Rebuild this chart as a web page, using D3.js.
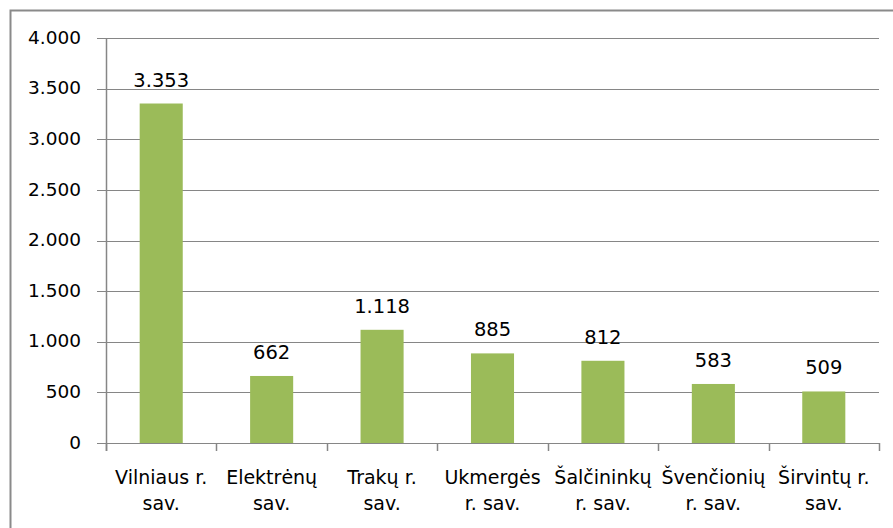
<!DOCTYPE html>
<html>
<head>
<meta charset="utf-8">
<script src="https://cdn.jsdelivr.net/npm/d3@7"></script>
<style>
  html, body { margin: 0; padding: 0; background: #fff; }
  svg { display: block; }
  text { font-family: "DejaVu Sans", sans-serif; fill: #000; }
</style>
</head>
<body>
<svg id="chart" width="893" height="528"></svg>
<script>
// Data
const categories = ["Vilniaus r. sav.", "Elektrėnų sav.", "Trakų r. sav.", "Ukmergės r. sav.", "Šalčininkų r. sav.", "Švenčionių r. sav.", "Širvintų r. sav."];
const categoryLines = [["Vilniaus r.", "sav."], ["Elektrėnų", "sav."], ["Trakų r.", "sav."], ["Ukmergės", "r. sav."], ["Šalčininkų", "r. sav."], ["Švenčionių", "r. sav."], ["Širvintų r.", "sav."]];
const values = [3353, 662, 1118, 885, 812, 583, 509];
const yTicks = [0, 500, 1000, 1500, 2000, 2500, 3000, 3500, 4000];

(function () {
const svg = d3.select("#chart");
const W = 893, H = 528;
const pLeft = 106, pRight = 879, pTop = 38, pBottom = 443;
const gridColor = "#868686";

const loc = d3.formatLocale({decimal: ",", thousands: ".", grouping: [3], currency: ["", ""]});
const fmt = loc.format(",d");

// Outer frame (clipped on right/bottom)
svg.append("rect")
  .attr("x", 10.5).attr("y", 10.5)
  .attr("width", W + 20).attr("height", H + 20)
  .attr("fill", "none").attr("stroke", "#8a8a8a").attr("stroke-width", 2);

const y = d3.scaleLinear().domain([0, 4000]).range([pBottom, pTop]);
const x = d3.scaleBand().domain(categories).range([pLeft, pRight]).paddingInner(0.61).paddingOuter(0.305);

// Gridlines
svg.append("g").selectAll("line").data(yTicks).join("line")
  .attr("x1", pLeft - 9).attr("x2", pRight)
  .attr("y1", d => Math.round(y(d)) + 0.5).attr("y2", d => Math.round(y(d)) + 0.5)
  .attr("stroke", gridColor).attr("stroke-width", 1);

// Y axis labels
const yAxis = d3.axisLeft(y).tickValues(yTicks).tickSize(0).tickPadding(25).tickFormat(fmt);
const gy = svg.append("g").attr("transform", `translate(${pLeft},0)`).call(yAxis);
gy.select(".domain").remove();
gy.selectAll("text").style("font-family", '"DejaVu Sans", sans-serif').style("font-size", "18.5px").attr("fill", "#000").attr("dy", "0.28em");

// Bars
svg.append("g").selectAll("rect").data(values).join("rect")
  .attr("x", (d, i) => x(categories[i]))
  .attr("width", x.bandwidth())
  .attr("y", d => y(d))
  .attr("height", d => y(0) - y(d))
  .attr("fill", "#9BBB59");

// Value labels
svg.append("g").selectAll("text").data(values).join("text")
  .attr("x", (d, i) => x(categories[i]) + x.bandwidth() / 2)
  .attr("y", d => y(d) - 17)
  .attr("text-anchor", "middle")
  .style("font-size", "19.5px")
  .text(d => fmt(d));

// Y axis line
svg.append("line")
  .attr("x1", pLeft + 0.5).attr("x2", pLeft + 0.5)
  .attr("y1", pTop).attr("y2", pBottom + 8)
  .attr("stroke", gridColor).attr("stroke-width", 1.5);

// X axis ticks at category boundaries
const boundaries = d3.range(categories.length + 1).map(i => pLeft + i * x.step());
svg.append("g").selectAll("line").data(boundaries).join("line")
  .attr("x1", d => Math.round(d) + 0.5).attr("x2", d => Math.round(d) + 0.5)
  .attr("y1", pBottom).attr("y2", pBottom + 8)
  .attr("stroke", gridColor).attr("stroke-width", 1.5);

// Category labels
const cl = svg.append("g").selectAll("text").data(categories).join("text")
  .attr("text-anchor", "middle")
  .style("font-size", "19px")
  .attr("transform", d => `translate(${x(d) + x.bandwidth() / 2},484)`);
cl.each(function(d, i) {
  const t = d3.select(this);
  categoryLines[i].forEach((line, j) => {
    t.append("tspan").attr("x", 0).attr("y", j * 26).text(line);
  });
});
})();
</script>
</body>
</html>
